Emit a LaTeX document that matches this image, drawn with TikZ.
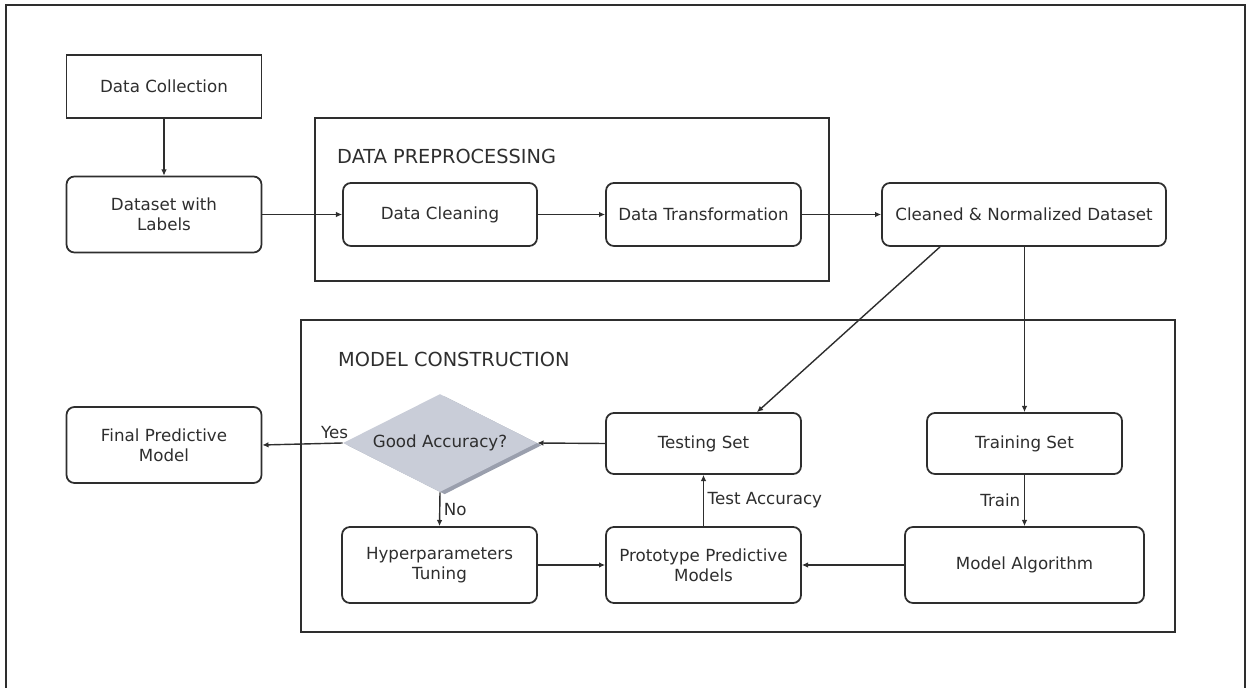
\documentclass[tikz,border=0pt]{standalone}
\usepackage{fontspec}
\setmainfont{DejaVu Sans}
\usetikzlibrary{arrows.meta,shapes.geometric,shadows}
\definecolor{linegray}{HTML}{2E2E2E}
\definecolor{decfill}{HTML}{C9CDD8}
\definecolor{decshade}{HTML}{9A9FAD}

\begin{document}
\begin{tikzpicture}[x=0.02cm,y=-0.02cm,
	>={Latex[length=3.5pt,width=3.2pt]},
	every node/.style={font=\fontsize{9.5}{11.5}\selectfont,text=linegray},
	box/.style={draw=linegray,line width=1pt,rounded corners=4.5pt,align=center,
		minimum width=3.9cm,minimum height=1.26cm,inner sep=2pt},
	plainbox/.style={box,rounded corners=0pt},
	tallbox/.style={box,minimum height=1.52cm},
	group/.style={draw=linegray,line width=1pt},
	title/.style={anchor=west,font=\fontsize{11}{13}\selectfont},
	decision/.style={diamond,aspect=2,fill=decfill,draw=none,inner sep=0pt,
		minimum width=3.88cm,minimum height=1.96cm,
		drop shadow={shadow xshift=2.6pt,shadow yshift=-1.3pt,fill=decshade,opacity=1}},
	conn/.style={->,draw=linegray,line width=0.8pt},
	lbl/.style={inner sep=2pt}]
				\useasboundingbox (0,0) rectangle (1250,688);
				\draw[line width=1pt,linegray] (6,700) -- (6,5) -- (1245,5) -- (1245,700);
				\draw[group] (315,118) rectangle (829,281);
				\node[title] (dptitle) at (331,156) {DATA PREPROCESSING};
				\draw[group] (301,320) rectangle (1175,632);
				\node[title] (mctitle) at (332,359) {MODEL CONSTRUCTION};
				\node[plainbox] (collect) at (164,86.5) {Data Collection};
				\node[tallbox] (labels) at (164,214.5) {Dataset with\\Labels};
				\node[box,minimum width=3.88cm] (clean) at (440,214.5) {Data Cleaning};
				\node[box] (transform) at (703.5,214.5) {Data Transformation};
				\node[box,minimum width=5.68cm] (normal) at (1024,214.5) {Cleaned \& Normalized Dataset};
				\node[tallbox] (final) at (164,445) {Final Predictive\\Model};
				\node[decision] (good) at (440,443) {Good Accuracy?};
				\node[box,minimum height=1.22cm] (test) at (703.5,443.5) {Testing Set};
				\node[box,minimum height=1.22cm] (train) at (1024.5,443.5) {Training Set};
				\node[tallbox] (tune) at (439.5,565) {Hyperparameters\\Tuning};
				\node[tallbox] (proto) at (703.5,565) {Prototype Predictive\\Models};
				\node[tallbox,minimum width=4.78cm] (algo) at (1024.5,565) {Model Algorithm};
				\draw[conn] (collect) -- (labels);
				\draw[conn] (labels) -- (clean);
				\draw[conn] (clean) -- (transform);
				\draw[conn] (transform) -- (normal);
				\draw[conn] ([xshift=-1.68cm]normal.south) -- ([xshift=1.07cm]test.north);
				\draw[conn] (normal.south -| train) -- (train.north);
				\draw[conn] (train) -- node[lbl,left] {Train} (algo);
				\draw[conn] (algo) -- (proto);
				\draw[conn] (tune) -- (proto);
				\draw[conn] (proto) -- node[lbl,right] {Test Accuracy} (test);
				\draw[conn] (test.west) -- (good.east);
				\draw[conn] (good.west) -- node[lbl,above,pos=0.1] {Yes} (final.east);
				\draw[conn] (good.south) -- node[lbl,right] {No} (tune.north);
\end{tikzpicture}
\end{document}
